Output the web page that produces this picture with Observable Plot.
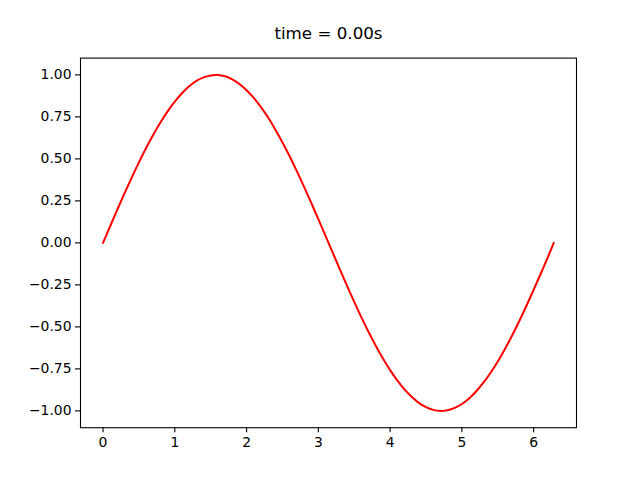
<!DOCTYPE html>
<html>
<head>
<meta charset="utf-8">
<script src="https://cdn.jsdelivr.net/npm/d3@7"></script>
<script src="https://cdn.jsdelivr.net/npm/@observablehq/plot@0.6"></script>
<style>
  html, body { margin: 0; padding: 0; background: white; }
</style>
</head>
<body>
<div id="chart"></div>
<script>
const title = "time = 0.00s";
const xs = [0.0,0.1,0.2,0.3,0.4,0.5,0.6,0.7,0.8,0.9,1.0,1.1,1.2,1.3,1.4,1.5,1.57,1.6,1.7,1.8,1.9,2.0,2.1,2.2,2.3,2.4,2.5,2.6,2.7,2.8,2.9,3.0,3.1,3.2,3.3,3.4,3.5,3.6,3.7,3.8,3.9,4.0,4.1,4.2,4.3,4.4,4.5,4.6,4.71,4.8,4.9,5.0,5.1,5.2,5.3,5.4,5.5,5.6,5.7,5.8,5.9,6.0,6.1,6.2,6.28];
const ys = [0.000,0.100,0.199,0.296,0.389,0.479,0.565,0.644,0.717,0.783,0.841,0.891,0.932,0.964,0.985,0.997,1.000,1.000,0.992,0.974,0.946,0.909,0.863,0.808,0.746,0.675,0.598,0.516,0.427,0.335,0.239,0.141,0.042,-0.058,-0.158,-0.256,-0.351,-0.443,-0.530,-0.612,-0.688,-0.757,-0.818,-0.872,-0.916,-0.952,-0.978,-0.994,-1.000,-0.996,-0.982,-0.959,-0.926,-0.883,-0.832,-0.773,-0.706,-0.631,-0.551,-0.465,-0.374,-0.279,-0.182,-0.083,0.000];
const xTicks = [0,1,2,3,4,5,6];
const yTicks = [-1.00,-0.75,-0.50,-0.25,0.00,0.25,0.50,0.75,1.00];

const data = xs.map((x, i) => ({x, y: ys[i]}));
const fmtY = d => d3.format(".2f")(d).replace("-", "−");

const chart = Plot.plot({
  width: 640,
  height: 480,
  marginLeft: 80,
  marginRight: 64,
  marginTop: 57.6,
  marginBottom: 52.8,
  style: {fontFamily: "DejaVu Sans", fontSize: "13.9px", color: "black", background: "white"},
  x: {domain: [-0.314, 6.597]},
  y: {domain: [-1.1, 1.1]},
  marks: [
    Plot.axisX({ticks: xTicks, tickSize: 5, tickPadding: 4, label: null, tickFormat: d => String(d), stroke: "black", strokeWidth: 1.1}),
    Plot.axisY({ticks: yTicks, tickSize: 5, tickPadding: 4, label: null, tickFormat: fmtY, stroke: "black", strokeWidth: 1.1}),
    Plot.line(data, {x: "x", y: "y", stroke: "#ff0000", strokeWidth: 2, curve: "catmull-rom"}),
    Plot.frame({stroke: "black", strokeWidth: 1.1}),
    Plot.text([title], {frameAnchor: "top", dy: -24, lineAnchor: "middle", fontSize: 16.7, fill: "black"})
  ]
});
document.getElementById("chart").appendChild(chart);
</script>
</body>
</html>
